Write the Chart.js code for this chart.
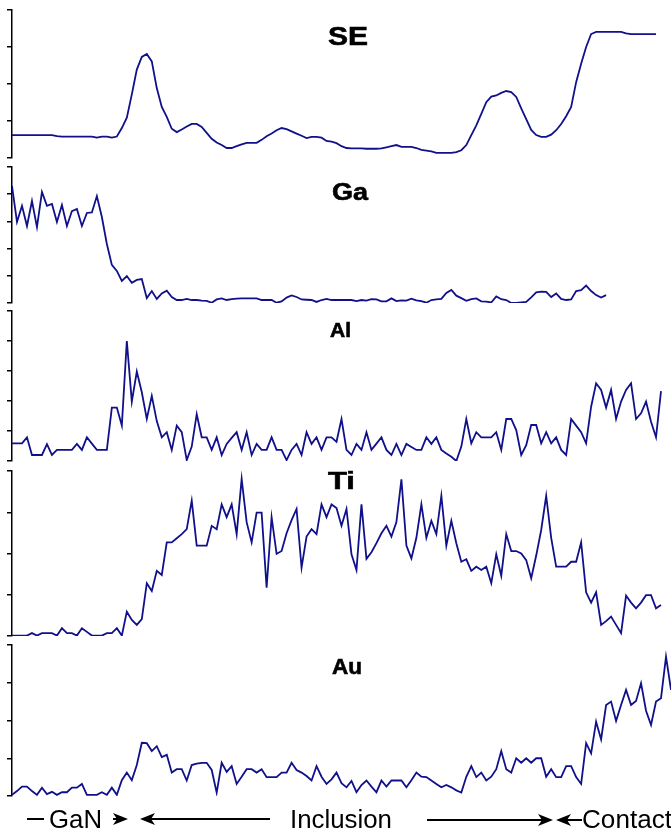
<!DOCTYPE html>
<html>
<head>
<meta charset="utf-8">
<script src="https://cdn.jsdelivr.net/npm/chart.js@4.4.1/dist/chart.umd.min.js"></script>
<style>
  body { margin: 0; background: #fff; }
  #page { position: relative; width: 671px; height: 834px; overflow: hidden; }
  #page canvas { position: absolute; left: 0; }
  #labels { position: absolute; left: 0; top: 0; pointer-events: none; }
  #labels text { font-family: "Liberation Sans", Arial, Helvetica, sans-serif; fill: #000; }
  #labels text.title { stroke: #000; stroke-width: 0.6; }
</style>
</head>
<body>
<div id="page">
  <canvas id="se" width="671"></canvas>
  <canvas id="ga" width="671"></canvas>
  <canvas id="al" width="671"></canvas>
  <canvas id="ti" width="671"></canvas>
  <canvas id="au" width="671"></canvas>

  <svg id="labels" width="671" height="834">
    <text class="title" x="328" y="45" font-size="26" font-weight="bold" textLength="40" lengthAdjust="spacingAndGlyphs">SE</text>
    <text class="title" x="332" y="199.5" font-size="24" font-weight="bold" textLength="36" lengthAdjust="spacingAndGlyphs">Ga</text>
    <text class="title" x="330" y="337" font-size="20" font-weight="bold" textLength="21" lengthAdjust="spacingAndGlyphs">Al</text>
    <text class="title" x="328" y="489" font-size="24" font-weight="bold" textLength="27" lengthAdjust="spacingAndGlyphs">Ti</text>
    <text class="title" x="332" y="674" font-size="22" font-weight="bold" textLength="30" lengthAdjust="spacingAndGlyphs">Au</text>

    <g stroke="#000" stroke-width="2" fill="none">
      <line x1="27" y1="819" x2="44" y2="819"/>
      <line x1="113" y1="819" x2="124" y2="819"/>
      <line x1="146" y1="819" x2="270" y2="819"/>
      <line x1="427" y1="820" x2="547" y2="820"/>
      <line x1="562" y1="820" x2="582" y2="820"/>
    </g>
    <g fill="#000">
      <polygon points="128,819 113,813 117,819 113,825"/>
      <polygon points="140,819 155,813 151,819 155,825"/>
      <polygon points="553,820 538,814 542,820 538,826"/>
      <polygon points="556,820 571,814 567,820 571,826"/>
    </g>
    <text x="49" y="828" font-size="26" textLength="53" lengthAdjust="spacingAndGlyphs">GaN</text>
    <text x="290" y="828" font-size="26" textLength="102" lengthAdjust="spacingAndGlyphs">Inclusion</text>
    <text x="582" y="828" font-size="26" textLength="90" lengthAdjust="spacingAndGlyphs">Contact</text>
  </svg>
</div>

<script>
// signal intensity along the scan line, one value per step (step index = position)
var seValues = [0.62,0.62,0.62,0.62,0.62,0.62,0.62,0.62,0.62,
  0.59,
  0.58,0.58,0.58,0.58,0.58,0.58,0.58,
  0.55,0.58,0.58,0.55,0.58,
  0.81,1.09,1.72,2.39,2.73,2.81,2.61,1.89,1.38,1.11,
  0.79,0.70,0.77,0.85,0.92,0.92,0.84,0.68,0.52,0.42,
  0.35,0.27,0.27,0.32,0.37,0.41,0.41,0.41,0.49,0.59,
  0.66,0.75,0.81,0.78,0.72,0.66,0.60,0.54,0.57,0.57,
  0.55,0.46,0.44,0.40,0.32,0.27,0.26,0.26,0.26,0.25,
  0.25,0.25,0.26,0.29,0.32,0.35,0.30,0.30,0.30,0.27,
  0.22,0.20,0.18,0.14,0.14,0.14,0.14,0.16,0.21,0.35,
  0.62,0.88,1.19,1.51,1.66,1.69,1.76,1.81,1.78,1.65,
  1.34,1.05,0.76,0.62,0.57,0.57,0.63,0.75,0.92,1.13,
  1.38,2.05,2.55,3.00,3.35,3.41,3.41,3.41,3.41,3.41,
  3.41,3.37,3.35,3.35,3.35,3.35,3.35,3.35];

var gaValues = [4.30,2.98,3.57,2.83,3.75,2.79,4.08,3.57,3.64,2.98,
  3.60,2.83,3.38,3.46,2.83,3.31,3.33,3.93,3.16,2.17,
  1.40,1.18,0.81,0.99,0.74,0.85,0.88,0.18,0.44,0.15,
  0.35,0.45,0.22,0.11,0.11,0.15,0.11,0.11,0.09,0.08,
  0.01,0.13,0.17,0.11,0.14,0.16,0.17,0.17,0.17,0.17,
  0.11,0.11,0.11,0.01,0.06,0.20,0.28,0.22,0.13,0.12,
  0.11,0.04,0.11,0.15,0.11,0.11,0.11,0.11,0.11,0.07,
  0.11,0.09,0.14,0.13,0.06,0.06,0.17,0.07,0.10,0.09,
  0.16,0.10,0.07,0.01,0.11,0.13,0.15,0.37,0.48,0.27,
  0.18,0.08,0.14,0.17,0.06,0.05,0.02,0.24,0.14,0.11,
  0,0,0.02,0.04,0.21,0.39,0.42,0.41,0.22,0.35,
  0.15,0.11,0.13,0.44,0.47,0.64,0.44,0.29,0.20,0.29];

var alValues = [0.59,0.59,0.59,0.79,0.20,0.20,0.20,0.56,0.20,0.37,
  0.37,0.37,0.37,0.57,0.37,0.79,0.58,0.37,0.37,0.37,
  1.78,1.78,1.18,4.00,1.98,2.98,2.29,1.40,2.17,1.33,
  0.79,0.96,0.37,1.18,0.96,0.03,0.48,1.56,0.79,0.79,
  0.37,0.79,0.20,0.57,0.77,0.96,0.37,0.96,0.20,0.57,
  0.37,0.37,0.79,0.37,0.37,0.03,0.37,0.57,0.20,0.96,
  0.57,0.79,0.37,0.79,0.79,0.64,1.40,0.37,0.20,0.57,
  0.37,0.96,0.37,0.58,0.79,0.37,0.20,0.57,0.20,0.57,
  0.47,0.37,0.37,0.79,0.57,0.79,0.37,0.25,0.14,0,
  0.48,1.40,0.59,0.96,0.79,0.79,0.79,0.96,0.37,1.40,
  1.40,1.03,0.20,0.53,1.20,1.20,0.59,0.96,0.59,0.79,
  0.37,0.20,1.40,1.18,0.96,0.59,1.81,2.59,2.37,1.78,
  2.37,1.40,1.98,2.37,2.59,1.40,1.59,1.98,1.31,0.79,
  2.33];

var tiValues = [0.01,0.01,0.01,0.01,0.07,0.01,0.07,0.07,0.07,0.01,
  0.19,0.07,0.07,0.01,0.19,0.10,0.01,0.01,0.01,0.07,
  0.07,0.19,0.01,0.59,0.39,0.27,0.41,1.28,1.09,1.58,
  1.48,2.27,2.27,2.37,2.47,2.59,3.28,2.19,2.19,2.19,
  2.67,2.59,3.19,2.88,3.19,2.47,3.81,2.76,2.27,2.99,
  2.99,1.17,2.88,1.99,2.06,2.49,2.81,3.08,1.66,2.41,
  2.59,2.47,3.19,2.88,3.19,3.10,2.67,3.08,1.98,1.60,
  3.19,1.87,2.03,2.25,2.49,2.67,2.41,2.76,3.80,2.19,
  1.88,2.38,3.19,2.38,2.79,2.47,3.40,2.19,2.79,2.25,
  1.80,1.86,1.58,1.68,1.60,1.68,1.28,1.98,1.46,2.47,
  2.06,2.06,2.00,1.84,1.40,1.95,2.57,3.40,2.38,1.68,
  1.68,1.68,1.80,1.80,2.27,1.06,0.81,1.06,0.27,0.36,
  0.47,0.27,0.07,0.98,0.81,0.67,0.81,0.99,0.99,0.67,
  0.75];

var auValues = [0.03,0.13,0.25,0.25,0.13,0.03,0.22,0.05,0.11,0.03,
  0.10,0.10,0.22,0.22,0.32,0.03,0.03,0.03,0.10,0.03,
  0.22,0.03,0.42,0.62,0.42,0.82,1.41,1.40,1.19,1.32,
  1.03,1.09,0.62,0.71,0.71,0.41,0.82,0.86,0.88,0.88,
  0.69,0.09,0.88,0.64,0.79,0.32,0.51,0.71,0.71,0.62,
  0.71,0.50,0.50,0.50,0.62,0.62,0.88,0.69,0.62,0.53,
  0.41,0.79,0.51,0.32,0.44,0.62,0.34,0.23,0.40,0.10,
  0.29,0.41,0.25,0.10,0.41,0.25,0.41,0.41,0.41,0.23,
  0.42,0.62,0.51,0.50,0.41,0.32,0.23,0.29,0.23,0.15,
  0.09,0.51,0.79,0.50,0.62,0.41,0.51,0.71,1.19,0.71,
  0.62,1.00,0.88,1.00,0.88,1.00,1.00,0.51,0.71,0.50,
  0.50,0.79,0.79,0.50,0.32,1.40,1.13,1.97,1.50,2.41,
  2.50,1.99,2.41,2.81,2.41,2.52,2.99,2.26,1.88,2.50,
  2.59,3.69,2.81];

var lastStep = 132;

// panel layout: where each axis starts/ends on the page and how many tick steps it has
var panels = [
  { id: 'se', values: seValues, top: 10,  bottom: 158, max: 4 },
  { id: 'ga', values: gaValues, top: 167, bottom: 303, max: 5 },
  { id: 'al', values: alValues, top: 311, bottom: 461, max: 5 },
  { id: 'ti', values: tiValues, top: 471, bottom: 636, max: 4 },
  { id: 'au', values: auValues, top: 645, bottom: 796, max: 4 }
];

var pad = 4;

panels.forEach(function (p) {
  var canvas = document.getElementById(p.id);
  canvas.height = p.bottom - p.top + pad * 2;
  canvas.style.top = (p.top - pad) + 'px';

  new Chart(canvas, {
    type: 'line',
    data: {
      datasets: [{
        data: p.values.map(function (v, i) { return { x: i, y: v }; }),
        borderColor: '#10108a',
        borderWidth: 1.8,
        pointRadius: 0,
        tension: 0,
        fill: false
      }]
    },
    options: {
      responsive: false,
      animation: false,
      devicePixelRatio: 1,
      layout: { padding: { left: 7, right: 0, top: pad, bottom: pad } },
      plugins: { legend: { display: false }, tooltip: { enabled: false } },
      scales: {
        x: { type: 'linear', min: 0, max: lastStep, display: false },
        y: {
          min: 0,
          max: p.max,
          ticks: { display: false, stepSize: 1 },
          grid: { drawOnChartArea: false, drawTicks: true, tickLength: 5, color: '#000', lineWidth: 1.5 },
          border: { display: true, color: '#000', width: 1.5 }
        }
      }
    }
  });
});
</script>
</body>
</html>
